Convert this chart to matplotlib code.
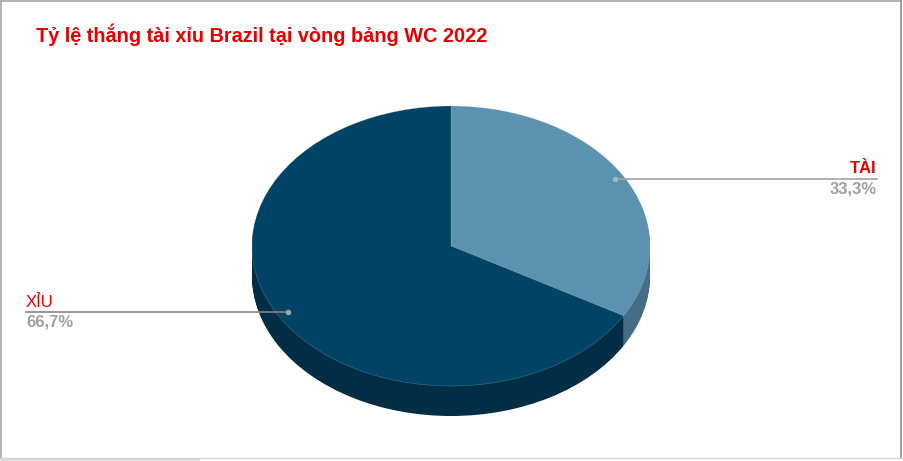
#!/usr/bin/env python
# -*- coding:utf-8 -*-

import matplotlib
matplotlib.use('Agg')
import matplotlib.pyplot as plt
from matplotlib.patches import Rectangle

plt.rcParams['font.family'] = ['Liberation Sans', 'DejaVu Sans']

title = 'Tỷ lệ thắng tài xỉu Brazil tại vòng bảng WC 2022'
labels = ['TÀI', 'XỈU']
values = [33.3, 66.7]
top_colors = ['#5b92b0', '#004364']
side_colors = ['#456d85', '#012e45']

W, H = 904, 461
cx, cy = 451, 246      # tam elip, tinh theo pixel
rx, ry = 199, 140
depth = 30

fig = plt.figure(figsize=(W / 100, H / 100), dpi=100)

# truc cho hinh tron, 1 don vi = 1 ban kinh
ax = fig.add_axes([0, 0, 1, 1])
for d in range(depth, 0, -1):
    ax.pie(values, colors=side_colors, startangle=90, counterclock=False,
           center=(0, -d / ry), radius=1, frame=True)
ax.pie(values, colors=top_colors, startangle=90, counterclock=False,
       center=(0, 0), radius=1, frame=True,
       wedgeprops={'edgecolor': (0.75, 0.85, 0.9, 0.35), 'linewidth': 0.4})
ax.set_aspect('auto')
ax.set_xlim(-cx / rx, (W - cx) / rx)
ax.set_ylim((cy - H) / ry, cy / ry)
ax.axis('off')

# truc pixel cho chu, duong dan va khung
ov = fig.add_axes([0, 0, 1, 1], facecolor='none')
ov.set_xlim(0, W)
ov.set_ylim(H, 0)
ov.axis('off')

# khung cua bieu do
ov.plot([1.5, 1.5], [1, 458], color='#a6a6a6', lw=1.2)
ov.plot([1, 901.5], [1.5, 1.5], color='#a6a6a6', lw=1.2)
ov.plot([901.5, 901.5], [1, 458], color='#8c8c8c', lw=1.2)
ov.plot([0, 904], [458, 458], color='#d4d4d4', lw=1)
ov.add_patch(Rectangle((0, 459), 200, 2, color='#dcdcdc', lw=0))

ov.text(36, 35, title, color='#e50000', fontsize=14.3, fontweight='bold',
        ha='left', va='center')

# TAI
ov.plot([615, 877], [179.5, 179.5], color='#a3a3a3', lw=1.2)
ov.plot([615], [179.5], 'o', color='#9fb6c4', ms=3)
ov.text(877, 168, labels[0], color='#e50000', fontsize=12, fontweight='bold',
        ha='right', va='center')
ov.text(877, 189, f'{values[0]:.1f}%'.replace('.', ','), color='#a0a0a0',
        fontsize=12, fontweight='bold', ha='right', va='center')

# XIU
ov.plot([26, 288], [312, 312], color='#858585', lw=1.2)
ov.plot([288], [312], 'o', color='#8fa6b5', ms=3)
ov.text(26, 302, labels[1], color='#e50000', fontsize=12,
        ha='left', va='center')
ov.text(26, 322, f'{values[1]:.1f}%'.replace('.', ','), color='#a0a0a0',
        fontsize=12, fontweight='bold', ha='left', va='center')

fig.savefig('out.png', dpi=100)
